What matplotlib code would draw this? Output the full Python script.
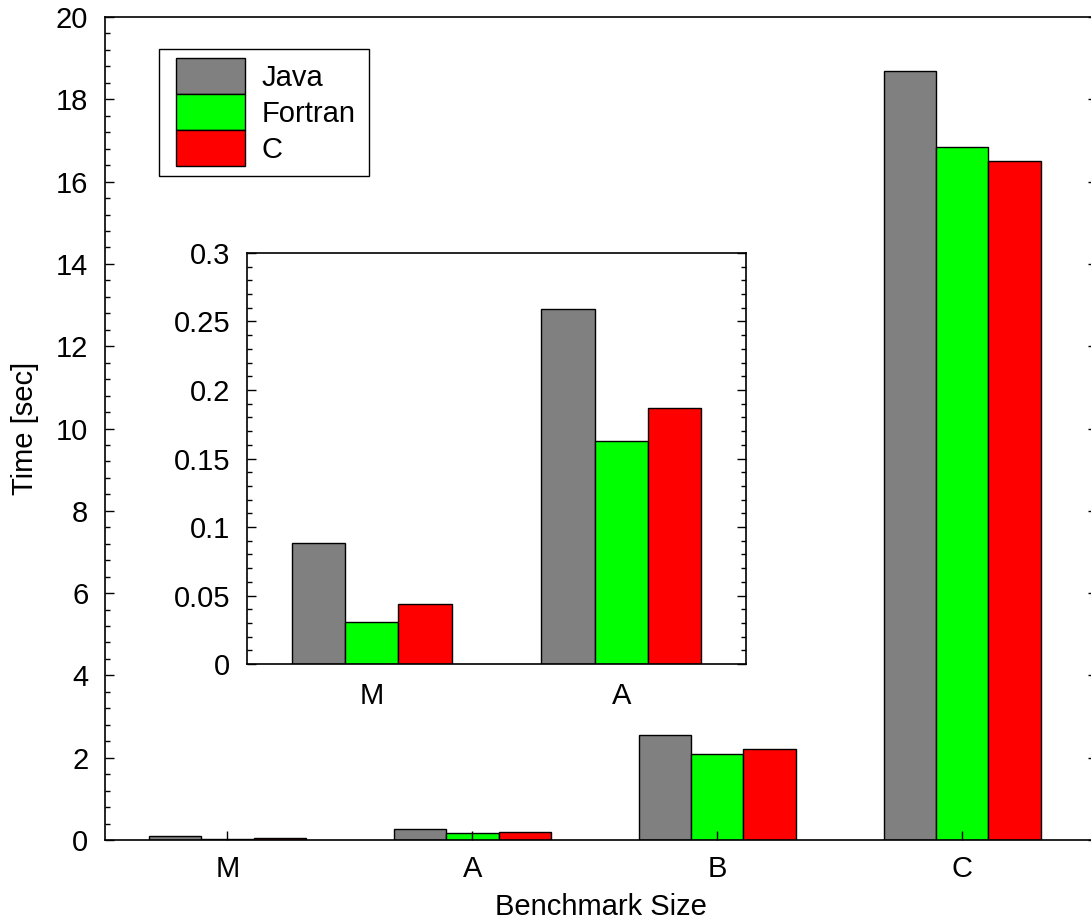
import matplotlib.pyplot as plt
import numpy as np
from matplotlib.patches import Rectangle
from matplotlib.ticker import MultipleLocator, FormatStrFormatter

plt.rcParams['font.family'] = ['Liberation Sans', 'DejaVu Sans']
plt.rcParams['font.size'] = 21

# data
sizes = ['M', 'A', 'B', 'C']
java = [0.088, 0.259, 2.55, 18.68]
fortran = [0.031, 0.163, 2.08, 16.84]
c_lang = [0.0435, 0.187, 2.21, 16.50]

labels = ['Java', 'Fortran', 'C']
colors = ['#808080', '#00ff00', '#ff0000']

W, H = 1091, 923
fig = plt.figure(figsize=(W / 100, H / 100), dpi=100)
ax = fig.add_axes([0.0962, 0.0899, 0.9093, 0.8917])

w = 0.2135
x = np.arange(len(sizes))
for i, (vals, lab, col) in enumerate(zip([java, fortran, c_lang], labels, colors)):
    ax.bar(x + (i - 1) * w, vals, w, color=col, edgecolor='black', linewidth=1, label=lab)

ax.set_xlim(-0.5, 3.55)
ax.set_ylim(0, 20)
ax.set_xticks(x)
ax.set_xticklabels(sizes)
ax.yaxis.set_major_locator(MultipleLocator(2))
ax.yaxis.set_minor_locator(MultipleLocator(0.4))
ax.tick_params(axis='y', which='both', direction='in', right=True, left=True)
ax.tick_params(axis='y', which='major', length=6.5, width=1, pad=12)
ax.tick_params(axis='y', which='minor', length=3.6, width=1)
ax.tick_params(axis='x', direction='in', length=6.5, width=1, pad=11, top=False)
for s in ax.spines.values():
    s.set_linewidth(1.2)
ax.set_xlabel('Benchmark Size', labelpad=7)
ax.set_ylabel('Time [sec]', labelpad=12)

# legend: handles stacked without gaps, square frame drawn separately
leg = ax.legend(loc='upper left', bbox_to_anchor=(176 / W, 1 - 58 / H),
                bbox_transform=fig.transFigure, borderaxespad=0, borderpad=0,
                frameon=False, handlelength=2.36, handleheight=1.52,
                labelspacing=0, handletextpad=0.58, fontsize=21)
ax.add_patch(Rectangle((159 / W, 1 - 176 / H), 210 / W, 127 / H, transform=fig.transFigure,
                       fill=False, edgecolor='black', linewidth=1, clip_on=False))

# inset
ins = fig.add_axes([0.2264, 0.2806, 0.4574, 0.4453])
xi = np.arange(2)
for i, (vals, col) in enumerate(zip([java, fortran, c_lang], colors)):
    ins.bar(xi + (i - 1) * w, vals[:2], w, color=col, edgecolor='black', linewidth=1)
ins.set_xlim(-0.5, 1.5)
ins.set_ylim(0, 0.3)
ins.set_xticks(xi)
ins.set_xticklabels(sizes[:2])
ins.yaxis.set_major_locator(MultipleLocator(0.05))
ins.yaxis.set_minor_locator(MultipleLocator(0.01))
ins.yaxis.set_major_formatter(FormatStrFormatter('%g'))
ins.tick_params(axis='y', which='both', direction='in', right=True, left=True)
ins.tick_params(axis='y', which='major', length=6.5, width=1, pad=12)
ins.tick_params(axis='y', which='minor', length=3.6, width=1)
ins.tick_params(axis='x', length=0, pad=13)
for s in ins.spines.values():
    s.set_linewidth(1.2)

fig.savefig('out.png', dpi=100)
